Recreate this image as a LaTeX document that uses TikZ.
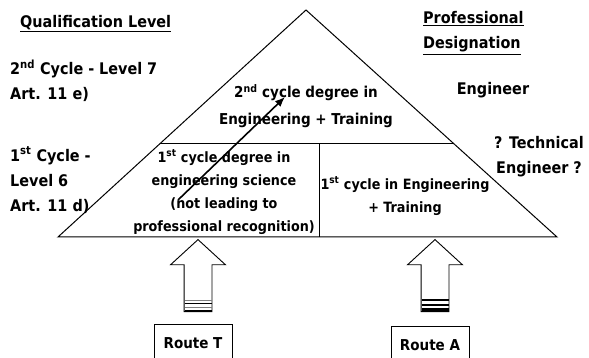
\documentclass[tikz,border=0pt]{standalone}
\usepackage{fontspec}
\setmainfont{DejaVu Sans Condensed}
\usetikzlibrary{arrows.meta, positioning, shapes.arrows, calc}

\begin{document}
\begin{tikzpicture}[
        x=1pt, y=-1pt,
        label text/.style={font=\fontsize{16}{25}\selectfont\bfseries, align=left, anchor=west, inner sep=0pt},
        topcell/.style={font=\fontsize{15}{27}\selectfont\bfseries, align=center, inner sep=0pt},
        cell/.style={font=\fontsize{14.2}{23}\selectfont\bfseries, align=center, inner sep=0pt},
        route/.style={rectangle, draw, line width=0.8pt, minimum width=78pt, minimum height=38pt, font=\fontsize{15}{18}\selectfont\bfseries},
        blockarr/.style={single arrow, draw, fill=white, line width=0.9pt, rotate=90, minimum height=72pt, inner sep=13.5pt, single arrow head extend=13.5pt, single arrow tip angle=95},
        edge/.style={line width=1pt},
        climb/.style={-{Latex[length=10pt,width=8pt]}, line width=1.6pt}
    ]
        \useasboundingbox (0,0) rectangle (589,358);

        % 1. Pyramid
        \coordinate (apex) at (306,10);
        \coordinate (baseL) at (58,237);
        \coordinate (baseR) at (557,237);
        \coordinate (midL) at ($(apex)!0.59!(baseL)$);
        \coordinate (midR) at ($(apex)!0.59!(baseR)$);
        \coordinate (divTop) at (319,0 |- midL);
        \coordinate (divBot) at (319,237);
        \draw [edge] (apex) -- (baseL) -- (baseR) -- cycle;
        \draw [edge] (midL) -- (midR);
        \draw [edge] (divTop) -- (divBot);

        % 2. Cells
        \node (second) [topcell] at (306,106) {2\textsuperscript{nd} cycle degree in\\Engineering + Training};
        \node (firstT) [cell] at (224,192) {1\textsuperscript{st} cycle degree in\\engineering science\\(not leading to\\professional recognition)};
        \node (firstA) [cell] at (405,196) {1\textsuperscript{st} cycle in Engineering\\+ Training};

        % 3. Side labels
        \node (qual) [label text] at (20,24) {\underline{Qualification Level}};
        \node (lvlseven) [label text] at (10,81) {2\textsuperscript{nd} Cycle - Level 7\\Art. 11 e)};
        \node (lvlsix) [label text] at (10,180) {1\textsuperscript{st} Cycle -\\Level 6\\Art. 11 d)};
        \node (prof) [label text] at (423,33) {\underline{Professional}\\\underline{Designation}};
        \node (eng) [label text, anchor=center] at (493,90) {Engineer};
        \node (tech) [label text, anchor=center, align=center] at (539,157) {? Technical\\Engineer ?};

        % 4. Routes
        \node (routeT) [route] at (193,343) {Route T};
        \node (routeA) [route] at (430,345) {Route A};
        \node (liftT) [blockarr] at (198,282) {};
        \node (liftA) [blockarr] at (435,282) {};
        \foreach \dy/\w/\c in {2/0.8/black, 5/0.8/gray, 8.5/0.8/black, 12/0.8/gray} {
            \draw [line width=\w, draw=\c] ($(liftT.tail)+(-13.5,-\dy)$) -- ++(27,0);
        }
        \foreach \dy/\w in {2.5/2.5, 7/1.5, 12/2.5} {
            \draw [line width=\w] ($(liftA.tail)+(-13.5,-\dy)$) -- ++(27,0);
        }

        % Progression arrow
        \coordinate (climbStart) at (178,200);
        \coordinate (climbEnd) at (285,97);
        \draw [climb] (climbStart) -- (climbEnd);
    \end{tikzpicture}
\end{document}
